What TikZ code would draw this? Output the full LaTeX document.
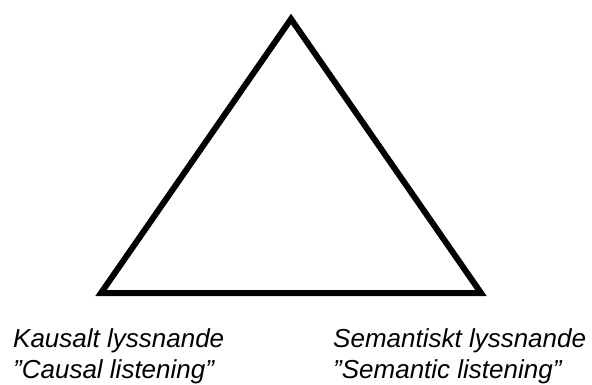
\documentclass[tikz,border=0pt]{standalone}
\usepackage{fontspec}
\setmainfont{Liberation Sans}
\usepackage{tikz}

\begin{document}
\begin{tikzpicture}[x=1pt,y=-1pt,
  sidetext/.style={anchor=base west,inner sep=0pt,font=\fontsize{26}{31}\selectfont\itshape}]
  \useasboundingbox (0,0) rectangle (592,385);
  \coordinate (T) at (291,19);
  \coordinate (L) at (101,293);
  \coordinate (R) at (481,293);
  \draw[line width=6pt] (T)--(L)--(R)--cycle;
  \node[sidetext] (kausal) at (13,347) {Kausalt lyssnande};
  \node[sidetext] (causal) at (13,378) {”Causal listening”};
  \node[sidetext] (semantiskt) at (333,347) {Semantiskt lyssnande};
  \node[sidetext] (semantic) at (333,378) {”Semantic listening”};
\end{tikzpicture}
\end{document}
